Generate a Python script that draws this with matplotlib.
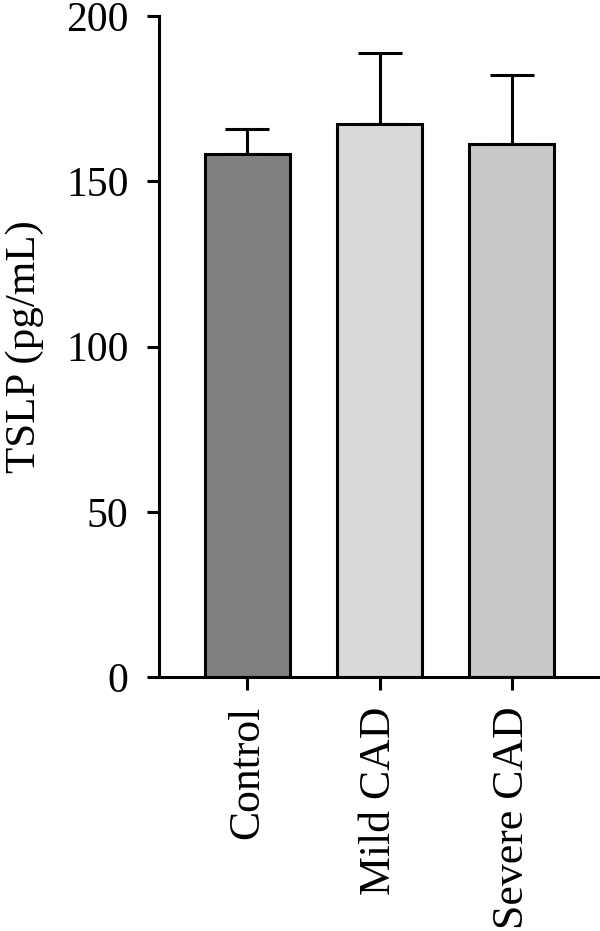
import matplotlib
matplotlib.use("Agg")
import matplotlib.pyplot as plt

groups = ["Control", "Mild CAD", "Severe CAD"]
means = [158.3, 167.3, 161.3]
sem_upper = [7.4, 21.4, 20.9]
bar_colors = ["#808080", "#d9d9d9", "#c8c8c8"]
yticks = [0, 50, 100, 150, 200]

plt.rcParams.update({
    "font.family": "serif",
    "font.serif": ["Liberation Serif", "DejaVu Serif"],
    "font.size": 30,
})

fig = plt.figure(figsize=(6.0, 9.31), dpi=100)
ax = fig.add_axes([0.265, 0.2728, 0.735, 0.71])

lw = 2.2
x = list(range(len(groups)))
ax.bar(x, means, width=0.65, color=bar_colors, edgecolor="black", linewidth=lw, zorder=2)
ax.errorbar(x, means, yerr=[[0] * len(x), sem_upper], fmt="none", ecolor="black",
            elinewidth=lw, capsize=15.5, capthick=lw, zorder=1)

ax.set_xlim(-0.67, 2.67)
ax.set_ylim(0, 200)
ax.set_yticks(yticks)
ax.set_xticks(x)
ax.set_xticklabels(groups, rotation=90, fontsize=31.5)
ax.set_ylabel("TSLP (pg/mL)", fontsize=31, labelpad=16)

for side in ("top", "right"):
    ax.spines[side].set_visible(False)
for side in ("left", "bottom"):
    ax.spines[side].set_linewidth(lw)
ax.tick_params(axis="both", direction="out", length=9.0, width=lw)
ax.tick_params(axis="y", pad=13)
ax.tick_params(axis="x", pad=12)

fig.savefig("out.png", dpi=100)
